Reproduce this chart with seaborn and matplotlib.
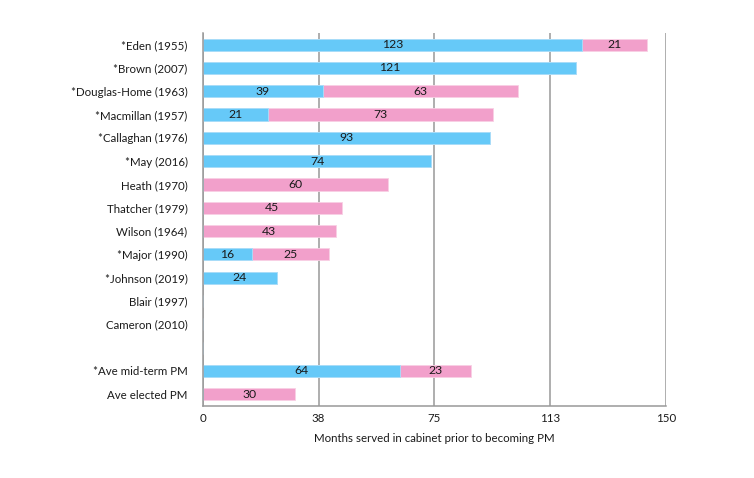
import matplotlib
matplotlib.use("Agg")
import matplotlib.pyplot as plt
import seaborn as sns
import pandas as pd
import numpy as np

# rows, top to bottom (blank label is the spacer row)
pms = ["*Eden (1955)", "*Brown (2007)", "*Douglas-Home (1963)", "*Macmillan (1957)",
       "*Callaghan (1976)", "*May (2016)", "Heath (1970)", "Thatcher (1979)",
       "Wilson (1964)", "*Major (1990)", "*Johnson (2019)", "Blair (1997)",
       "Cameron (2010)", " ", "*Ave mid-term PM", "Ave elected PM"]
blue = [123, 121, 39, 21, 93, 74, 0, 0, 0, 16, 24, 0, 0, 0, 64, 0]
pink = [21, 0, 63, 73, 0, 0, 60, 45, 43, 25, 0, 0, 0, 0, 23, 30]
xticks = [0, 37.5, 75, 112.5, 150]
xlabels = ["0", "38", "75", "113", "150"]

BLUE = "#66C9F8"
PINK = "#F2A0CB"
FS = 8.3

df = pd.DataFrame({"pm": pms, "blue": blue, "pink": pink})
df["total"] = df["blue"] + df["pink"]

sns.set_style("white")
plt.rcParams["font.family"] = ["Lato", "DejaVu Sans"]

fig = plt.figure(figsize=(7.54, 4.78), dpi=100)
ax = fig.add_axes([0.269, 0.151, 0.614, 0.78])

sns.barplot(data=df, y="pm", x="total", order=pms, color=PINK, orient="h",
            width=0.52, edgecolor="#F8D0E4", linewidth=0.6, saturation=1, ax=ax)
sns.barplot(data=df, y="pm", x="blue", order=pms, color=BLUE, orient="h",
            width=0.52, edgecolor="#A8E0FB", linewidth=0.6, saturation=1, ax=ax)

pink_c, blue_c = ax.containers[0], ax.containers[1]
ax.bar_label(blue_c, labels=[str(v) if v else "" for v in blue], label_type="center",
             fontsize=FS + 0.5, color="#1a1a1a")
# centre pink labels on the pink segment only
for i, (b, p) in enumerate(zip(blue, pink)):
    if p:
        ax.text(b + p / 2, i, str(p), ha="center", va="center", fontsize=FS + 0.5,
                color="#1a1a1a")

ax.set_xlim(0, 150)
ax.set_ylim(len(pms) - 0.5, -0.5)
ax.set_xticks(xticks)
ax.set_xticklabels(xlabels, fontsize=FS, color="#1a1a1a")
ax.set_xlabel("Months served in cabinet prior to becoming PM", fontsize=FS,
              labelpad=7, color="#1a1a1a")
ax.set_ylabel("")
ax.tick_params(axis="y", length=0, labelsize=FS, pad=11, labelcolor="#1a1a1a")
ax.set_yticks(np.arange(len(pms) + 1) - 0.5, minor=True)
ax.tick_params(axis="y", which="minor", length=4, color="#999999", direction="out")
ax.tick_params(axis="x", length=4, color="#999999", direction="in", pad=5)

ax.grid(axis="x", color="#999999", linewidth=1.1)
ax.set_axisbelow(True)
for s in ["top", "right"]:
    ax.spines[s].set_visible(False)
for s in ["left", "bottom"]:
    ax.spines[s].set_color("#999999")
    ax.spines[s].set_linewidth(1.1)

fig.savefig("out.png", dpi=100)
